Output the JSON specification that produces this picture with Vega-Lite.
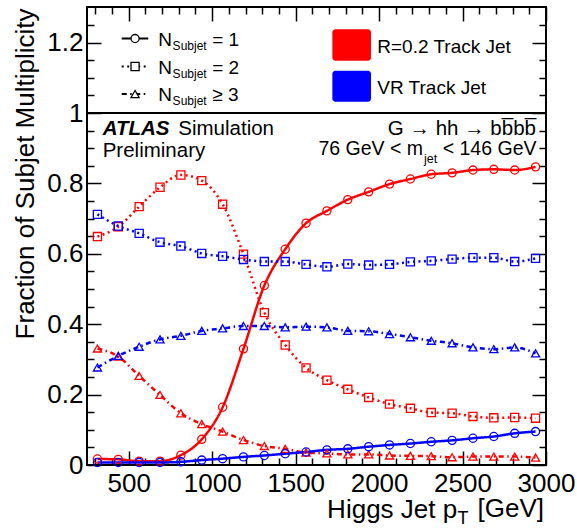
{
  "$schema": "https://vega.github.io/schema/vega-lite/v6.json",
  "width": 459,
  "height": 458,
  "autosize": {"type": "none"},
  "padding": {"left": 87, "top": 7, "right": 31, "bottom": 63},
  "background": "white",
  "datasets": {
    "series": [
      {"pt":312.5,"jet":"R=0.2 Track Jet","n":"N=1","frac":0.017},{"pt":437.5,"jet":"R=0.2 Track Jet","n":"N=1","frac":0.016},{"pt":562.5,"jet":"R=0.2 Track Jet","n":"N=1","frac":0.011},{"pt":687.5,"jet":"R=0.2 Track Jet","n":"N=1","frac":0.011},{"pt":812.5,"jet":"R=0.2 Track Jet","n":"N=1","frac":0.028},{"pt":937.5,"jet":"R=0.2 Track Jet","n":"N=1","frac":0.073},{"pt":1062.5,"jet":"R=0.2 Track Jet","n":"N=1","frac":0.164},{"pt":1187.5,"jet":"R=0.2 Track Jet","n":"N=1","frac":0.330},{"pt":1312.5,"jet":"R=0.2 Track Jet","n":"N=1","frac":0.510},{"pt":1437.5,"jet":"R=0.2 Track Jet","n":"N=1","frac":0.613},{"pt":1562.5,"jet":"R=0.2 Track Jet","n":"N=1","frac":0.687},{"pt":1687.5,"jet":"R=0.2 Track Jet","n":"N=1","frac":0.722},{"pt":1812.5,"jet":"R=0.2 Track Jet","n":"N=1","frac":0.754},{"pt":1937.5,"jet":"R=0.2 Track Jet","n":"N=1","frac":0.776},{"pt":2062.5,"jet":"R=0.2 Track Jet","n":"N=1","frac":0.798},{"pt":2187.5,"jet":"R=0.2 Track Jet","n":"N=1","frac":0.8125},{"pt":2312.5,"jet":"R=0.2 Track Jet","n":"N=1","frac":0.826},{"pt":2437.5,"jet":"R=0.2 Track Jet","n":"N=1","frac":0.830},{"pt":2562.5,"jet":"R=0.2 Track Jet","n":"N=1","frac":0.838},{"pt":2687.5,"jet":"R=0.2 Track Jet","n":"N=1","frac":0.840},{"pt":2812.5,"jet":"R=0.2 Track Jet","n":"N=1","frac":0.838},{"pt":2937.5,"jet":"R=0.2 Track Jet","n":"N=1","frac":0.847},
      {"pt":312.5,"jet":"R=0.2 Track Jet","n":"N=2","frac":0.649},{"pt":437.5,"jet":"R=0.2 Track Jet","n":"N=2","frac":0.677},{"pt":562.5,"jet":"R=0.2 Track Jet","n":"N=2","frac":0.734},{"pt":687.5,"jet":"R=0.2 Track Jet","n":"N=2","frac":0.789},{"pt":812.5,"jet":"R=0.2 Track Jet","n":"N=2","frac":0.824},{"pt":937.5,"jet":"R=0.2 Track Jet","n":"N=2","frac":0.808},{"pt":1062.5,"jet":"R=0.2 Track Jet","n":"N=2","frac":0.741},{"pt":1187.5,"jet":"R=0.2 Track Jet","n":"N=2","frac":0.599},{"pt":1312.5,"jet":"R=0.2 Track Jet","n":"N=2","frac":0.433},{"pt":1437.5,"jet":"R=0.2 Track Jet","n":"N=2","frac":0.341},{"pt":1562.5,"jet":"R=0.2 Track Jet","n":"N=2","frac":0.276},{"pt":1687.5,"jet":"R=0.2 Track Jet","n":"N=2","frac":0.241},{"pt":1812.5,"jet":"R=0.2 Track Jet","n":"N=2","frac":0.215},{"pt":1937.5,"jet":"R=0.2 Track Jet","n":"N=2","frac":0.192},{"pt":2062.5,"jet":"R=0.2 Track Jet","n":"N=2","frac":0.173},{"pt":2187.5,"jet":"R=0.2 Track Jet","n":"N=2","frac":0.161},{"pt":2312.5,"jet":"R=0.2 Track Jet","n":"N=2","frac":0.149},{"pt":2437.5,"jet":"R=0.2 Track Jet","n":"N=2","frac":0.147},{"pt":2562.5,"jet":"R=0.2 Track Jet","n":"N=2","frac":0.138},{"pt":2687.5,"jet":"R=0.2 Track Jet","n":"N=2","frac":0.134},{"pt":2812.5,"jet":"R=0.2 Track Jet","n":"N=2","frac":0.135},{"pt":2937.5,"jet":"R=0.2 Track Jet","n":"N=2","frac":0.133},
      {"pt":312.5,"jet":"R=0.2 Track Jet","n":"N>=3","frac":0.331},{"pt":437.5,"jet":"R=0.2 Track Jet","n":"N>=3","frac":0.308},{"pt":562.5,"jet":"R=0.2 Track Jet","n":"N>=3","frac":0.253},{"pt":687.5,"jet":"R=0.2 Track Jet","n":"N>=3","frac":0.199},{"pt":812.5,"jet":"R=0.2 Track Jet","n":"N>=3","frac":0.147},{"pt":937.5,"jet":"R=0.2 Track Jet","n":"N>=3","frac":0.116},{"pt":1062.5,"jet":"R=0.2 Track Jet","n":"N>=3","frac":0.095},{"pt":1187.5,"jet":"R=0.2 Track Jet","n":"N>=3","frac":0.071},{"pt":1312.5,"jet":"R=0.2 Track Jet","n":"N>=3","frac":0.054},{"pt":1437.5,"jet":"R=0.2 Track Jet","n":"N>=3","frac":0.046},{"pt":1562.5,"jet":"R=0.2 Track Jet","n":"N>=3","frac":0.035},{"pt":1687.5,"jet":"R=0.2 Track Jet","n":"N>=3","frac":0.033},{"pt":1812.5,"jet":"R=0.2 Track Jet","n":"N>=3","frac":0.030},{"pt":1937.5,"jet":"R=0.2 Track Jet","n":"N>=3","frac":0.030},{"pt":2062.5,"jet":"R=0.2 Track Jet","n":"N>=3","frac":0.027},{"pt":2187.5,"jet":"R=0.2 Track Jet","n":"N>=3","frac":0.026},{"pt":2312.5,"jet":"R=0.2 Track Jet","n":"N>=3","frac":0.025},{"pt":2437.5,"jet":"R=0.2 Track Jet","n":"N>=3","frac":0.022},{"pt":2562.5,"jet":"R=0.2 Track Jet","n":"N>=3","frac":0.024},{"pt":2687.5,"jet":"R=0.2 Track Jet","n":"N>=3","frac":0.024},{"pt":2812.5,"jet":"R=0.2 Track Jet","n":"N>=3","frac":0.024},{"pt":2937.5,"jet":"R=0.2 Track Jet","n":"N>=3","frac":0.021},
      {"pt":312.5,"jet":"VR Track Jet","n":"N=1","frac":0.007},{"pt":437.5,"jet":"VR Track Jet","n":"N=1","frac":0.007},{"pt":562.5,"jet":"VR Track Jet","n":"N=1","frac":0.007},{"pt":687.5,"jet":"VR Track Jet","n":"N=1","frac":0.007},{"pt":812.5,"jet":"VR Track Jet","n":"N=1","frac":0.009},{"pt":937.5,"jet":"VR Track Jet","n":"N=1","frac":0.014},{"pt":1062.5,"jet":"VR Track Jet","n":"N=1","frac":0.018},{"pt":1187.5,"jet":"VR Track Jet","n":"N=1","frac":0.023},{"pt":1312.5,"jet":"VR Track Jet","n":"N=1","frac":0.027},{"pt":1437.5,"jet":"VR Track Jet","n":"N=1","frac":0.032},{"pt":1562.5,"jet":"VR Track Jet","n":"N=1","frac":0.037},{"pt":1687.5,"jet":"VR Track Jet","n":"N=1","frac":0.043},{"pt":1812.5,"jet":"VR Track Jet","n":"N=1","frac":0.046},{"pt":1937.5,"jet":"VR Track Jet","n":"N=1","frac":0.052},{"pt":2062.5,"jet":"VR Track Jet","n":"N=1","frac":0.057},{"pt":2187.5,"jet":"VR Track Jet","n":"N=1","frac":0.061},{"pt":2312.5,"jet":"VR Track Jet","n":"N=1","frac":0.066},{"pt":2437.5,"jet":"VR Track Jet","n":"N=1","frac":0.070},{"pt":2562.5,"jet":"VR Track Jet","n":"N=1","frac":0.076},{"pt":2687.5,"jet":"VR Track Jet","n":"N=1","frac":0.081},{"pt":2812.5,"jet":"VR Track Jet","n":"N=1","frac":0.090},{"pt":2937.5,"jet":"VR Track Jet","n":"N=1","frac":0.095},
      {"pt":312.5,"jet":"VR Track Jet","n":"N=2","frac":0.712},{"pt":437.5,"jet":"VR Track Jet","n":"N=2","frac":0.679},{"pt":562.5,"jet":"VR Track Jet","n":"N=2","frac":0.658},{"pt":687.5,"jet":"VR Track Jet","n":"N=2","frac":0.633},{"pt":812.5,"jet":"VR Track Jet","n":"N=2","frac":0.622},{"pt":937.5,"jet":"VR Track Jet","n":"N=2","frac":0.601},{"pt":1062.5,"jet":"VR Track Jet","n":"N=2","frac":0.593},{"pt":1187.5,"jet":"VR Track Jet","n":"N=2","frac":0.584},{"pt":1312.5,"jet":"VR Track Jet","n":"N=2","frac":0.578},{"pt":1437.5,"jet":"VR Track Jet","n":"N=2","frac":0.578},{"pt":1562.5,"jet":"VR Track Jet","n":"N=2","frac":0.570},{"pt":1687.5,"jet":"VR Track Jet","n":"N=2","frac":0.563},{"pt":1812.5,"jet":"VR Track Jet","n":"N=2","frac":0.571},{"pt":1937.5,"jet":"VR Track Jet","n":"N=2","frac":0.568},{"pt":2062.5,"jet":"VR Track Jet","n":"N=2","frac":0.570},{"pt":2187.5,"jet":"VR Track Jet","n":"N=2","frac":0.577},{"pt":2312.5,"jet":"VR Track Jet","n":"N=2","frac":0.580},{"pt":2437.5,"jet":"VR Track Jet","n":"N=2","frac":0.585},{"pt":2562.5,"jet":"VR Track Jet","n":"N=2","frac":0.589},{"pt":2687.5,"jet":"VR Track Jet","n":"N=2","frac":0.589},{"pt":2812.5,"jet":"VR Track Jet","n":"N=2","frac":0.578},{"pt":2937.5,"jet":"VR Track Jet","n":"N=2","frac":0.587},
      {"pt":312.5,"jet":"VR Track Jet","n":"N>=3","frac":0.277},{"pt":437.5,"jet":"VR Track Jet","n":"N>=3","frac":0.310},{"pt":562.5,"jet":"VR Track Jet","n":"N>=3","frac":0.336},{"pt":687.5,"jet":"VR Track Jet","n":"N>=3","frac":0.357},{"pt":812.5,"jet":"VR Track Jet","n":"N>=3","frac":0.367},{"pt":937.5,"jet":"VR Track Jet","n":"N>=3","frac":0.381},{"pt":1062.5,"jet":"VR Track Jet","n":"N>=3","frac":0.388},{"pt":1187.5,"jet":"VR Track Jet","n":"N>=3","frac":0.395},{"pt":1312.5,"jet":"VR Track Jet","n":"N>=3","frac":0.395},{"pt":1437.5,"jet":"VR Track Jet","n":"N>=3","frac":0.391},{"pt":1562.5,"jet":"VR Track Jet","n":"N>=3","frac":0.393},{"pt":1687.5,"jet":"VR Track Jet","n":"N>=3","frac":0.391},{"pt":1812.5,"jet":"VR Track Jet","n":"N>=3","frac":0.381},{"pt":1937.5,"jet":"VR Track Jet","n":"N>=3","frac":0.380},{"pt":2062.5,"jet":"VR Track Jet","n":"N>=3","frac":0.372},{"pt":2187.5,"jet":"VR Track Jet","n":"N>=3","frac":0.363},{"pt":2312.5,"jet":"VR Track Jet","n":"N>=3","frac":0.353},{"pt":2437.5,"jet":"VR Track Jet","n":"N>=3","frac":0.346},{"pt":2562.5,"jet":"VR Track Jet","n":"N>=3","frac":0.334},{"pt":2687.5,"jet":"VR Track Jet","n":"N>=3","frac":0.329},{"pt":2812.5,"jet":"VR Track Jet","n":"N>=3","frac":0.334},{"pt":2937.5,"jet":"VR Track Jet","n":"N>=3","frac":0.317}
    ],
    "one": [{}]
  },
  "resolve": {"axis": {"x": "independent", "y": "independent"}},
  "layer": [
    {
      "data": {"name": "series"},
      "mark": {"type": "line", "interpolate": "monotone", "strokeWidth": 2.5},
      "encoding": {
        "x": {"field": "pt", "type": "quantitative", "scale": {"domain": [250, 3000], "nice": false, "zero": false},
              "axis": {"orient": "bottom", "values": [500,1000,1500,2000,2500,3000], "format": "d", "tickSize": -14, "labelPadding": 19, "labelFlush": false, "labelOverlap": false,
                       "title": "Higgs Jet p", "titleAlign": "right", "titleBaseline": "alphabetic", "titleAnchor": "end", "titleX": 369.7, "titleY": 52}},
        "y": {"field": "frac", "type": "quantitative", "scale": {"domain": [0, 1.3012], "nice": false, "zero": false},
              "axis": {"orient": "left", "values": [0,0.2,0.4,0.6,0.8,1,1.2], "format": "~g", "tickSize": -14, "labelPadding": 18, "labelFlush": false, "labelOverlap": false,
                       "title": "Fraction of Subjet Multiplicity", "titleAngle": 270, "titleAlign": "right", "titleBaseline": "alphabetic", "titleAnchor": "end", "titleX": -54, "titleY": 1}},
        "color": {"field": "jet", "type": "nominal", "scale": {"domain": ["R=0.2 Track Jet", "VR Track Jet"], "range": ["#ff0000", "#0000ff"]}, "legend": null},
        "strokeDash": {"field": "n", "type": "nominal", "scale": {"domain": ["N=1", "N=2", "N>=3"], "range": [[1, 0], [2, 3.5], [5, 3.5, 1.5, 3.5]]}, "legend": null}
      }
    },
    {
      "data": {"name": "series"},
      "mark": {"type": "point", "filled": false, "strokeWidth": 1.3, "size": 66, "opacity": 1},
      "encoding": {
        "x": {"field": "pt", "type": "quantitative",
              "axis": {"orient": "bottom", "values": [300,400,600,700,800,900,1100,1200,1300,1400,1600,1700,1800,1900,2100,2200,2300,2400,2600,2700,2800,2900], "tickSize": -7, "labels": false, "title": null}},
        "y": {"field": "frac", "type": "quantitative",
              "axis": {"orient": "left", "values": [0.05,0.1,0.15,0.25,0.3,0.35,0.45,0.5,0.55,0.65,0.7,0.75,0.85,0.9,0.95,1.05,1.1,1.15,1.25], "tickSize": -7, "labels": false, "title": null}},
        "color": {"field": "jet", "type": "nominal", "legend": null},
        "shape": {"field": "n", "type": "nominal", "scale": {"domain": ["N=1", "N=2", "N>=3"], "range": ["circle", "square", "triangle-up"]}, "legend": null}
      }
    },
    {
      "data": {"name": "series"},
      "mark": {"type": "point", "opacity": 0},
      "encoding": {
        "x": {"field": "pt", "type": "quantitative",
              "axis": {"orient": "top", "values": [500,1000,1500,2000,2500,3000], "tickSize": -14, "labels": false, "title": null}},
        "y": {"field": "frac", "type": "quantitative",
              "axis": {"orient": "right", "values": [0,0.2,0.4,0.6,0.8,1,1.2], "tickSize": -14, "labels": false, "title": null}}
      }
    },
    {
      "data": {"name": "series"},
      "mark": {"type": "point", "opacity": 0},
      "encoding": {
        "x": {"field": "pt", "type": "quantitative",
              "axis": {"orient": "top", "values": [300,400,600,700,800,900,1100,1200,1300,1400,1600,1700,1800,1900,2100,2200,2300,2400,2600,2700,2800,2900], "tickSize": -7, "labels": false, "title": null}},
        "y": {"field": "frac", "type": "quantitative",
              "axis": {"orient": "right", "values": [0.05,0.1,0.15,0.25,0.3,0.35,0.45,0.5,0.55,0.65,0.7,0.75,0.85,0.9,0.95,1.05,1.1,1.15,1.25], "tickSize": -7, "labels": false, "title": null}}
      }
    },
    {
      "data": {"name": "one"},
      "mark": {"type": "rule", "color": "black", "strokeWidth": 2},
      "encoding": {"y": {"datum": 1, "axis": null}}
    },
    {
      "data": {"name": "one"},
      "mark": {"type": "rule", "color": "black", "strokeWidth": 2},
      "encoding": {"x": {"datum": 458, "axis": null}, "x2": {"datum": 617}, "y": {"datum": 1.2116, "axis": null}, "strokeDash": {"datum": "N=1", "legend": null}}
    },
    {
      "data": {"name": "one"},
      "mark": {"type": "rule", "color": "black", "strokeWidth": 2},
      "encoding": {"x": {"datum": 458, "axis": null}, "x2": {"datum": 617}, "y": {"datum": 1.1321, "axis": null}, "strokeDash": {"datum": "N=2", "legend": null}}
    },
    {
      "data": {"name": "one"},
      "mark": {"type": "rule", "color": "black", "strokeWidth": 2},
      "encoding": {"x": {"datum": 458, "axis": null}, "x2": {"datum": 617}, "y": {"datum": 1.054, "axis": null}, "strokeDash": {"datum": "N>=3", "legend": null}}
    },
    {
      "data": {"name": "one"},
      "mark": {"type": "point", "filled": true, "fill": "white", "stroke": "black", "strokeWidth": 1.3, "size": 66, "opacity": 1},
      "encoding": {"x": {"datum": 538, "axis": null}, "y": {"datum": 1.2116, "axis": null}, "shape": {"datum": "N=1", "legend": null}}
    },
    {
      "data": {"name": "one"},
      "mark": {"type": "point", "filled": true, "fill": "white", "stroke": "black", "strokeWidth": 1.3, "size": 66, "opacity": 1},
      "encoding": {"x": {"datum": 538, "axis": null}, "y": {"datum": 1.1321, "axis": null}, "shape": {"datum": "N=2", "legend": null}}
    },
    {
      "data": {"name": "one"},
      "mark": {"type": "point", "filled": true, "fill": "white", "stroke": "black", "strokeWidth": 1.3, "size": 66, "opacity": 1},
      "encoding": {"x": {"datum": 538, "axis": null}, "y": {"datum": 1.054, "axis": null}, "shape": {"datum": "N>=3", "legend": null}}
    },
    {
      "data": {"name": "one"},
      "mark": {"type": "text", "text": "N", "font": "Liberation Sans", "fontSize": 19, "align": "left", "baseline": "alphabetic", "color": "black"},
      "encoding": {"x": {"datum": 677, "axis": null}, "y": {"datum": 1.1918, "axis": null}}
    },
    {
      "data": {"name": "one"},
      "mark": {"type": "text", "text": "N", "font": "Liberation Sans", "fontSize": 19, "align": "left", "baseline": "alphabetic", "color": "black"},
      "encoding": {"x": {"datum": 677, "axis": null}, "y": {"datum": 1.1122, "axis": null}}
    },
    {
      "data": {"name": "one"},
      "mark": {"type": "text", "text": "N", "font": "Liberation Sans", "fontSize": 19, "align": "left", "baseline": "alphabetic", "color": "black"},
      "encoding": {"x": {"datum": 677, "axis": null}, "y": {"datum": 1.0341, "axis": null}}
    },
    {
      "data": {"name": "one"},
      "mark": {"type": "text", "text": "Subjet", "font": "Liberation Sans", "fontSize": 12, "align": "left", "baseline": "alphabetic", "color": "black"},
      "encoding": {"x": {"datum": 763, "axis": null}, "y": {"datum": 1.1804, "axis": null}}
    },
    {
      "data": {"name": "one"},
      "mark": {"type": "text", "text": "Subjet", "font": "Liberation Sans", "fontSize": 12, "align": "left", "baseline": "alphabetic", "color": "black"},
      "encoding": {"x": {"datum": 763, "axis": null}, "y": {"datum": 1.1009, "axis": null}}
    },
    {
      "data": {"name": "one"},
      "mark": {"type": "text", "text": "Subjet", "font": "Liberation Sans", "fontSize": 12, "align": "left", "baseline": "alphabetic", "color": "black"},
      "encoding": {"x": {"datum": 763, "axis": null}, "y": {"datum": 1.0227, "axis": null}}
    },
    {
      "data": {"name": "one"},
      "mark": {"type": "text", "text": "= 1", "font": "Liberation Sans", "fontSize": 19, "align": "left", "baseline": "alphabetic", "color": "black"},
      "encoding": {"x": {"datum": 1000, "axis": null}, "y": {"datum": 1.1918, "axis": null}}
    },
    {
      "data": {"name": "one"},
      "mark": {"type": "text", "text": "= 2", "font": "Liberation Sans", "fontSize": 19, "align": "left", "baseline": "alphabetic", "color": "black"},
      "encoding": {"x": {"datum": 1000, "axis": null}, "y": {"datum": 1.1122, "axis": null}}
    },
    {
      "data": {"name": "one"},
      "mark": {"type": "text", "text": "≥ 3", "font": "Liberation Sans", "fontSize": 19, "align": "left", "baseline": "alphabetic", "color": "black"},
      "encoding": {"x": {"datum": 1000, "axis": null}, "y": {"datum": 1.0341, "axis": null}}
    },
    {
      "data": {"name": "one"},
      "mark": {"type": "rect", "cornerRadius": 3},
      "encoding": {"x": {"datum": 1720, "axis": null}, "x2": {"datum": 1951.5}, "y": {"datum": 1.2378, "axis": null}, "y2": {"datum": 1.1486}, "color": {"datum": "R=0.2 Track Jet", "legend": null}}
    },
    {
      "data": {"name": "one"},
      "mark": {"type": "rect", "cornerRadius": 3},
      "encoding": {"x": {"datum": 1720, "axis": null}, "x2": {"datum": 1951.5}, "y": {"datum": 1.1202, "axis": null}, "y2": {"datum": 1.0321}, "color": {"datum": "VR Track Jet", "legend": null}}
    },
    {
      "data": {"name": "one"},
      "mark": {"type": "text", "text": "R=0.2 Track Jet", "font": "Liberation Sans", "fontSize": 19, "align": "left", "baseline": "alphabetic", "color": "black"},
      "encoding": {"x": {"datum": 1989, "axis": null}, "y": {"datum": 1.1719, "axis": null}}
    },
    {
      "data": {"name": "one"},
      "mark": {"type": "text", "text": "VR Track Jet", "font": "Liberation Sans", "fontSize": 19, "align": "left", "baseline": "alphabetic", "color": "black"},
      "encoding": {"x": {"datum": 1989, "axis": null}, "y": {"datum": 1.0554, "axis": null}}
    },
    {
      "data": {"name": "one"},
      "mark": {"type": "text", "text": "ATLAS", "font": "Liberation Sans", "fontSize": 20.5, "fontStyle": "italic", "fontWeight": "bold", "align": "left", "baseline": "alphabetic", "color": "black"},
      "encoding": {"x": {"datum": 344, "axis": null}, "y": {"datum": 0.9375, "axis": null}}
    },
    {
      "data": {"name": "one"},
      "mark": {"type": "text", "text": "Simulation", "font": "Liberation Sans", "fontSize": 20.5, "align": "left", "baseline": "alphabetic", "color": "black"},
      "encoding": {"x": {"datum": 797, "axis": null}, "y": {"datum": 0.9375, "axis": null}}
    },
    {
      "data": {"name": "one"},
      "mark": {"type": "text", "text": "Preliminary", "font": "Liberation Sans", "fontSize": 20.5, "align": "left", "baseline": "alphabetic", "color": "black"},
      "encoding": {"x": {"datum": 344, "axis": null}, "y": {"datum": 0.8764, "axis": null}}
    },
    {
      "data": {"name": "one"},
      "mark": {"type": "text", "text": "G → hh → bb̅bb̅", "font": "Liberation Sans", "fontSize": 20.5, "align": "right", "baseline": "alphabetic", "color": "black"},
      "encoding": {"x": {"datum": 2940, "axis": null}, "y": {"datum": 0.9389, "axis": null}}
    },
    {
      "data": {"name": "one"},
      "mark": {"type": "text", "text": "76 GeV < m", "font": "Liberation Sans", "fontSize": 19.5, "align": "right", "baseline": "alphabetic", "color": "black"},
      "encoding": {"x": {"datum": 2263, "axis": null}, "y": {"datum": 0.8821, "axis": null}}
    },
    {
      "data": {"name": "one"},
      "mark": {"type": "text", "text": "jet", "font": "Liberation Sans", "fontSize": 12.5, "align": "left", "baseline": "alphabetic", "color": "black"},
      "encoding": {"x": {"datum": 2269, "axis": null}, "y": {"datum": 0.8594, "axis": null}}
    },
    {
      "data": {"name": "one"},
      "mark": {"type": "text", "text": "< 146 GeV", "font": "Liberation Sans", "fontSize": 19.5, "align": "right", "baseline": "alphabetic", "color": "black"},
      "encoding": {"x": {"datum": 2943, "axis": null}, "y": {"datum": 0.8821, "axis": null}}
    },
    {
      "data": {"name": "one"},
      "mark": {"type": "text", "text": "T", "font": "Liberation Sans", "fontSize": 18, "align": "left", "baseline": "alphabetic", "color": "black"},
      "encoding": {"x": {"datum": 2470, "axis": null}, "y": {"datum": -0.168, "axis": null}}
    },
    {
      "data": {"name": "one"},
      "mark": {"type": "text", "text": "[GeV]", "font": "Liberation Sans", "fontSize": 26, "align": "right", "baseline": "alphabetic", "color": "black"},
      "encoding": {"x": {"datum": 2988, "axis": null}, "y": {"datum": -0.148, "axis": null}}
    }
  ],
  "config": {
    "view": {"stroke": "black", "strokeWidth": 2, "fill": "white"},
    "axis": {"domain": false, "grid": false, "tickColor": "black", "tickWidth": 1.5,
             "labelFont": "Liberation Sans", "labelFontSize": 26, "labelColor": "black",
             "titleFont": "Liberation Sans", "titleFontSize": 26, "titleFontWeight": "normal", "titleColor": "black"}
  }
}
